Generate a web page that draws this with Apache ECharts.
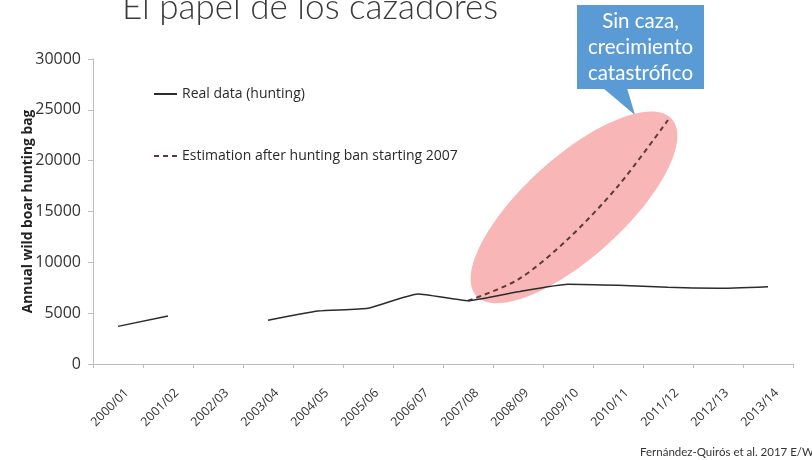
<!DOCTYPE html>
<html>
<head>
<meta charset="utf-8">
<script src="https://cdn.jsdelivr.net/npm/echarts@6/dist/echarts.min.js"></script>
<style>
  html, body { margin: 0; padding: 0; background: #fff; }
  #chart { width: 812px; height: 460px; }
</style>
</head>
<body>
<div id="chart"></div>
<script>
// Hunting seasons on the category axis
const seasons = ['2000/01', '2001/02', '2002/03', '2003/04', '2004/05', '2005/06', '2006/07',
                 '2007/08', '2008/09', '2009/10', '2010/11', '2011/12', '2012/13', '2013/14'];
// Recorded annual wild boar hunting bag (no record for 2002/03)
const realData = [3700, 4720, null, 4300, 5210, 5480, 6890, 6230, 7110, 7850, 7740, 7540, 7440, 7600];
// Projected population growth if hunting had been banned from 2007
const estimation = [null, null, null, null, null, null, null, 6230, 8300, 12300, 17500, 24000, null, null];
const yTicks = { min: 0, max: 30000, interval: 5000 };

const seriesNames = ['Real data (hunting)', 'Estimation after hunting ban starting 2007'];
const titleText = 'El papel de los cazadores';
const calloutLines = ['Sin caza,', 'crecimiento', 'catastrófico'];
const sourceText = 'Fernández-Quirós et al. 2017 E/W';

const FONT = 'Lato, "Open Sans", sans-serif';
const FONT_W = '"Open Sans", Lato, sans-serif';
const chart = echarts.init(document.getElementById('chart'), null, { renderer: 'canvas' });

const option = {
  animation: false,
  backgroundColor: '#ffffff',
  grid: { left: 93, right: 19, top: 59, bottom: 96, containLabel: false },
  legend: {
    orient: 'vertical',
    left: 148,
    top: 82,
    itemWidth: 23,
    itemHeight: 14,
    itemGap: 48,
    data: seriesNames,
    itemStyle: { opacity: 0 },
    textStyle: { fontFamily: FONT_W, fontSize: 14, color: '#2a2a2a' }
  },
  xAxis: {
    type: 'category',
    data: seasons,
    boundaryGap: true,
    axisLine: { lineStyle: { color: '#bdbdbd', width: 1 } },
    axisTick: { show: true, length: 4, lineStyle: { color: '#bdbdbd' } },
    axisLabel: {
      rotate: 45, interval: 0, fontFamily: FONT_W, fontSize: 12.5, color: '#333',
      margin: 18, verticalAlign: 'top', lineHeight: 25
    }
  },
  yAxis: {
    type: 'value',
    min: yTicks.min,
    max: yTicks.max,
    interval: yTicks.interval,
    name: 'Annual wild boar hunting bag',
    nameLocation: 'middle',
    nameRotate: 90,
    nameGap: 58,
    nameMoveOverlap: false,
    nameTextStyle: { fontFamily: FONT_W, fontSize: 13.8, fontWeight: 'bold', color: '#222' },
    axisLine: { show: true, lineStyle: { color: '#bdbdbd', width: 1 } },
    axisTick: { show: true, length: 5, lineStyle: { color: '#bdbdbd' } },
    splitLine: { show: false },
    axisLabel: {
      fontFamily: FONT_W, fontSize: 16, color: '#333', margin: 12,
      formatter: v => String(v)
    }
  },
  series: [
    {
      name: seriesNames[0],
      type: 'line',
      data: realData,
      symbol: 'none',
      connectNulls: false,
      smooth: 0.15,
      z: 5,
      lineStyle: { color: '#2b2b2b', width: 1.5 },
      itemStyle: { color: '#2b2b2b' }
    },
    {
      name: seriesNames[1],
      type: 'line',
      data: estimation,
      symbol: 'none',
      connectNulls: false,
      smooth: 0.3,
      z: 4,
      lineStyle: { color: '#5a3a3a', width: 2, type: [5, 4] },
      itemStyle: { color: '#5a3a3a' }
    }
  ]
};
chart.setOption(option);

// Highlight ellipse spanning the projected curve, from its first to its last value
const firstIdx = estimation.findIndex(v => v != null);
let lastIdx = estimation.length - 1;
while (estimation[lastIdx] == null) lastIdx--;
const pA = chart.convertToPixel({ gridIndex: 0 }, [firstIdx, estimation[firstIdx]]);
const pB = chart.convertToPixel({ gridIndex: 0 }, [lastIdx, estimation[lastIdx]]);
const dx = pB[0] - pA[0], dy = pB[1] - pA[1];
const len = Math.sqrt(dx * dx + dy * dy);
const cx = (pA[0] + pB[0]) / 2 + 6, cy = (pA[1] + pB[1]) / 2 - 3;
const angle = Math.atan2(-dy, dx);

chart.setOption({
  graphic: [
    {
      type: 'ellipse',
      x: cx, y: cy,
      rotation: angle,
      shape: { cx: 0, cy: 0, rx: len / 2 - 3, ry: 50 },
      style: { fill: '#f9b6b6' },
      z: 1, silent: true
    },
    {
      type: 'text',
      x: 122, y: -10,
      style: {
        text: titleText, fontFamily: FONT, fontSize: 35, fontWeight: 300,
        fill: '#3a3a3a'
      },
      z: 10
    },
    {
      type: 'group',
      z: 10,
      children: [
        { type: 'rect', shape: { x: 577, y: 5, width: 127, height: 84 }, style: { fill: '#5b9bd5' } },
        { type: 'polygon', shape: { points: [[603, 88], [627, 88], [635, 115]] }, style: { fill: '#5b9bd5' } },
        {
          type: 'text', x: 640.5, y: 47,
          style: {
            text: calloutLines.join('\n'), fontFamily: FONT, fontSize: 20.5, lineHeight: 26,
            fill: '#ffffff', align: 'center', verticalAlign: 'middle'
          }
        }
      ]
    },
    {
      type: 'text',
      x: 640, y: 452,
      style: { text: sourceText, fontFamily: FONT, fontSize: 11.5, fill: '#333', verticalAlign: 'middle' },
      z: 10
    }
  ]
});
</script>
</body>
</html>
